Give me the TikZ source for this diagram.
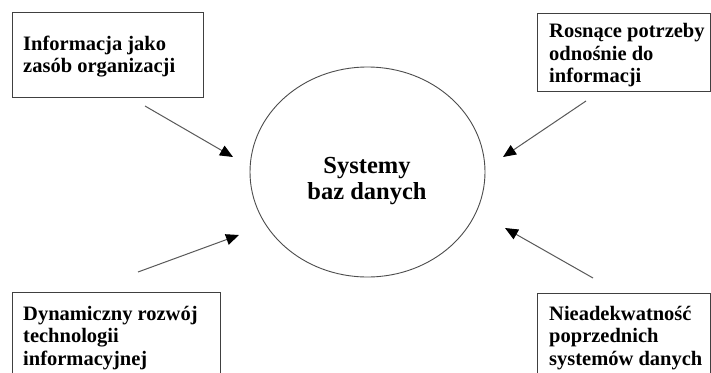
\documentclass[tikz,border=0pt]{standalone}
\usepackage{fontspec}
\setmainfont{Liberation Serif}
\usetikzlibrary{arrows.meta,shapes.geometric}
\begin{document}
\begin{tikzpicture}[x=1pt,y=-1pt,
  box/.style={draw=black!75, line width=0.9pt, rectangle, inner sep=0pt, anchor=north west},
  lbl/.style={font=\bfseries\fontsize{20.5}{22.5}\selectfont, align=left, anchor=north west, inner sep=0pt},
  ctr/.style={font=\bfseries\fontsize{24.5}{26}\selectfont, align=center, anchor=north, inner sep=0pt},
  arr/.style={draw=black!65, line width=1pt, -{Triangle[length=13pt,width=11pt,color=black]}},
]
\useasboundingbox[fill=white] (0,0) rectangle (711,372);

% boxes
\node[box, minimum width=191pt, minimum height=85pt] (b1) at (12,12) {};
\node[box, minimum width=173pt, minimum height=78pt] (b2) at (537,13) {};
\node[box, minimum width=208pt, minimum height=98pt] (b3) at (12,292) {};
\node[box, minimum width=173pt, minimum height=98pt] (b4) at (537,293) {};

% labels
\node[lbl] (t1) at (23,34) {\rule{0pt}{16pt}Informacja jako\\zasób organizacji};
\node[lbl] (t2) at (549,21.5) {\rule{0pt}{16pt}Rosnące potrzeby\\odnośnie do\\informacji};
\node[lbl] (t3) at (23,304) {\rule{0pt}{16pt}Dynamiczny rozwój\\technologii\\informacyjnej};
\node[lbl] (t4) at (549,304) {\rule{0pt}{16pt}Nieadekwatność\\poprzednich\\systemów danych};

% ellipse
\node[ellipse, draw=black!70, line width=0.9pt, minimum width=235pt, minimum height=210pt, inner sep=0pt] (c) at (367.5,172) {};
\node[ctr] (ct) at (367,154) {\rule{0pt}{19pt}Systemy\\baz danych};

% arrow end points
\coordinate (s1) at (145,106);
\coordinate (e1) at (233,157);
\coordinate (s2) at (586,101);
\coordinate (e2) at (503,157);
\coordinate (s3) at (138,272);
\coordinate (e3) at (239,235);
\coordinate (s4) at (593,278);
\coordinate (e4) at (505,228);

\draw[arr] (s1) -- (e1);
\draw[arr] (s2) -- (e2);
\draw[arr] (s3) -- (e3);
\draw[arr] (s4) -- (e4);
\end{tikzpicture}
\end{document}
